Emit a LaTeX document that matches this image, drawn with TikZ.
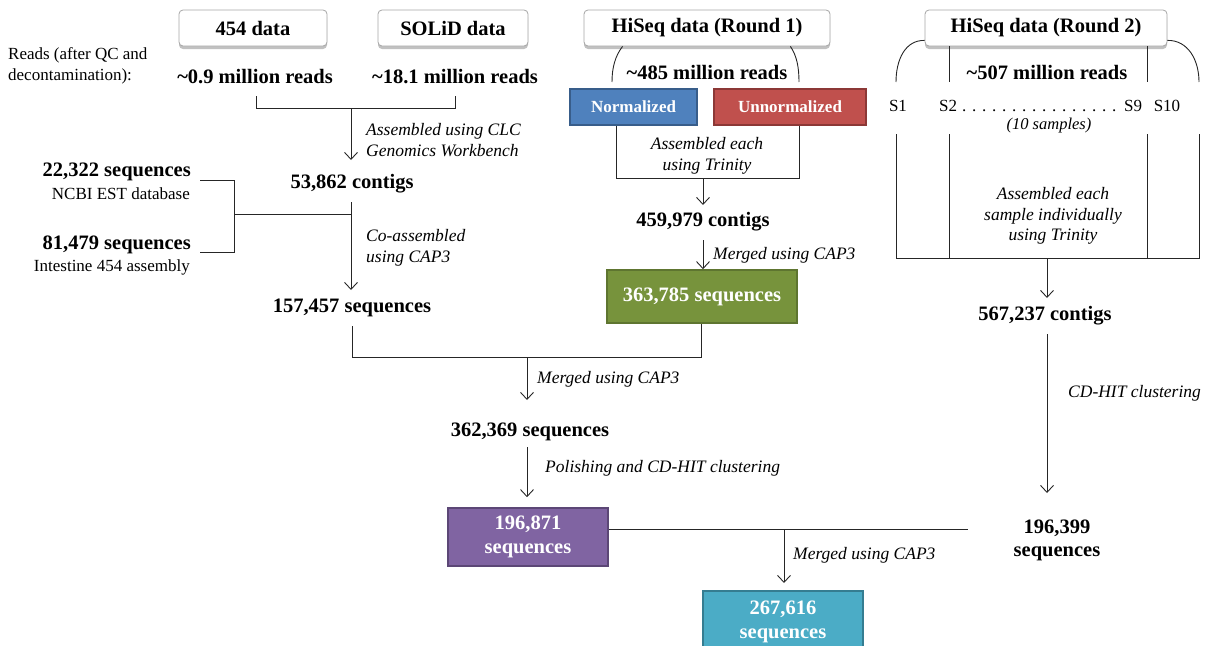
\documentclass[tikz,border=0pt]{standalone}
\usepackage{fontspec}
\setmainfont{Liberation Serif}
\usetikzlibrary{arrows.meta,shadows}
\definecolor{nblue}{HTML}{4F81BD}\definecolor{nblueD}{HTML}{385D8A}
\definecolor{ured}{HTML}{C0504D}\definecolor{uredD}{HTML}{8C3836}
\definecolor{ggreen}{HTML}{77933C}\definecolor{ggreenD}{HTML}{5E7530}
\definecolor{ppurple}{HTML}{8064A2}\definecolor{ppurpleD}{HTML}{5C4776}
\definecolor{ccyan}{HTML}{4BACC6}\definecolor{ccyanD}{HTML}{357D91}
\definecolor{lnc}{HTML}{262626}
\tikzset{
  bigb/.style={font=\fontsize{20.5}{23}\selectfont\bfseries, inner sep=0pt, align=center},
  lab/.style={font=\fontsize{17.5}{20.5}\selectfont\itshape, inner sep=0pt, align=left},
  plain/.style={font=\fontsize{17}{21}\selectfont, inner sep=0pt},
  topbox/.style={draw=black!35, fill=white, rounded corners=4pt, line width=0.8pt,
     minimum height=36pt, inner sep=0pt, font=\fontsize{20.5}{23}\selectfont\bfseries,
     drop shadow={shadow xshift=0pt, shadow yshift=-3pt, opacity=0.35, fill=black!70}},
  cbox/.style={line width=1.6pt, inner sep=0pt, text=white, align=center,
     font=\fontsize{20.5}{24}\selectfont\bfseries},
  sbox/.style={line width=1.6pt, inner sep=0pt, text=white, minimum height=36pt,
     font=\fontsize{17}{20}\selectfont\bfseries},
  ln/.style={draw=lnc, line width=0.9pt},
  arr/.style={ln, -{Straight Barb[length=7pt,width=13pt,line width=0.9pt]}},
}
\begin{document}
\begin{tikzpicture}[x=1pt,y=-1pt]
\useasboundingbox (0,0) rectangle (1207,645);
% ---------- top boxes ----------
\node[topbox, minimum width=148pt] (b454) at (253,28) {454 data};
\node[topbox, minimum width=150pt] (bsol) at (453,28) {SOLiD data};
\node[topbox, minimum width=246pt] (br1) at (707,28) {HiSeq data (Round 1)};
\node[topbox, minimum width=242pt] (br2) at (1046,28) {HiSeq data (Round 2)};
% ---------- left column ----------
\node[plain, anchor=west, align=left] (readslab) at (8,66) {Reads (after QC and\\decontamination):};
\node[bigb] (r454) at (255,77) {\textasciitilde0.9 million reads};
\node[bigb] (rsol) at (455,77) {\textasciitilde18.1 million reads};
\coordinate (ja) at (256,96); \coordinate (jb) at (455,96);
\coordinate (jm) at (351,108); \coordinate (t53) at (351,160);
\draw[ln] (ja) -- (ja |- jm) -- (jb |- jm) -- (jb);
\draw[arr] (jm) -- (t53);
\node[lab, anchor=west] (l1) at (366,140) {Assembled using CLC\\Genomics Workbench};
\node[bigb] (c53) at (352,184) {53,862 contigs};
\node[bigb, anchor=east] (s22) at (191,172) {22,322 sequences};
\node[plain, anchor=east] (ncbi) at (190,194) {NCBI EST database};
\node[bigb, anchor=east] (s81) at (191,245) {81,479 sequences};
\node[plain, anchor=east] (intes) at (190,267) {Intestine 454 assembly};
\coordinate (k1) at (200,180); \coordinate (k2) at (200,252);
\coordinate (kx) at (234,214); \coordinate (kv) at (351,214);
\coordinate (f53) at (351,202); \coordinate (t157) at (351,290);
\draw[ln] (k1) -- (kx |- k1) -- (kx |- k2) -- (k2);
\draw[ln] (kx) -- (kv);
\draw[arr] (f53) -- (t157);
\node[lab, anchor=west] (l2) at (366,248) {Co-assembled\\using CAP3};
\node[bigb] (s157) at (352,308) {157,457 sequences};
% ---------- Round 1 ----------
\node[bigb] (r485) at (707,72) {\textasciitilde485 million reads};
\draw[ln] (br1.south west) ++(39,0) coordinate (pl) .. controls (615,56) and (612,68) .. (612,82);
\draw[ln] (br1.south east) ++(-40,0) coordinate (pr) .. controls (797,56) and (799,68) .. (799,82);
\node[sbox, draw=nblueD, fill=nblue, minimum width=127pt] (norm) at (633.5,107) {Normalized};
\node[sbox, draw=uredD, fill=ured, minimum width=152pt] (unnorm) at (790,107) {Unnormalized};
\coordinate (n1) at (616,178); \coordinate (n2) at (799,178);
\coordinate (nm) at (703,178); \coordinate (t459) at (703,205);
\draw[ln] (norm.south -| n1) -- (n1) -- (n2) -- (unnorm.south -| n2);
\draw[arr] (nm) -- (t459);
\node[lab, align=center] (l3) at (707,156) {Assembled each\\using Trinity};
\node[bigb] (c459) at (703,222) {459,979 contigs};
\coordinate (f459) at (703,240);
\node[cbox, draw=ggreenD, fill=ggreen, minimum width=190pt, minimum height=53pt] (g363) at (702,296.5) {363,785 sequences};
\draw[arr] (f459) -- (g363.north -| f459);
\node[lab, anchor=west] (l4) at (713,255) {Merged using CAP3};
% ---------- merge 1 ----------
\coordinate (m1) at (352,326); \coordinate (m2) at (352,357); \coordinate (m3) at (701,357);
\coordinate (mm) at (527,357); \coordinate (t362) at (527,400);
\draw[ln] (m1) -- (m2) -- (m3) -- (g363.south -| m3);
\draw[arr] (mm) -- (t362);
\node[lab, anchor=west] (l5) at (537,379) {Merged using CAP3};
\node[bigb] (s362) at (530,432) {362,369 sequences};
\coordinate (f362) at (527,447);
\node[cbox, draw=ppurpleD, fill=ppurple, minimum width=160pt, minimum height=58pt] (p196) at (528,537) {196,871\\sequences};
\draw[arr] (f362) -- ([yshift=10pt]p196.north -| f362);
\node[lab, anchor=west] (l6) at (545,468) {Polishing and CD-HIT clustering};
% ---------- Round 2 ----------
\node[bigb] (r507) at (1047,72) {\textasciitilde507 million reads};
\draw[ln] ([yshift=6pt]br2.south west) .. controls (905,40) and (896,60) .. (896,82);
\draw[ln] ([yshift=6pt]br2.south east) .. controls (1188,40) and (1199,60) .. (1199,82);
\draw[ln] (br2.south -| 949,0) -- (949,82);
\draw[ln] (br2.south -| 1147,0) -- (1147,82);
\node[plain] (s1) at (898,106) {S1};
\node[plain, anchor=west] (s2s9) at (939,106) {\makebox[203pt]{S2\leaders\hbox to 10pt{\hss.\hss}\hfill S9}};
\node[plain] (s10) at (1167,106) {S10};
\node[lab, font=\fontsize{16.5}{19}\selectfont\itshape] (ten) at (1049,126) {(10 samples)};
\coordinate (q1) at (896,134); \coordinate (q2) at (949,134);
\coordinate (q3) at (1147,134); \coordinate (q4) at (1199,134);
\coordinate (qm) at (1047,258); \coordinate (t567) at (1047,298);
\draw[ln] (q1) -- (q1 |- qm) -- (q4 |- qm) -- (q4);
\draw[ln] (q2) -- (q2 |- qm);
\draw[ln] (q3) -- (q3 |- qm);
\draw[arr] (qm) -- (t567);
\node[lab, align=center] (l7) at (1053,216) {Assembled each\\sample individually\\using Trinity};
\node[bigb] (c567) at (1045,316) {567,237 contigs};
\coordinate (f567) at (1047,334); \coordinate (t196) at (1047,493);
\draw[arr] (f567) -- (t196);
\node[lab, anchor=west] (l8) at (1068,393) {CD-HIT clustering};
\node[bigb] (s196) at (1057,540) {196,399\\sequences};
% ---------- final merge ----------
\coordinate (e1) at (968,529); \coordinate (em) at (784,529);
\draw[ln] (p196.east |- e1) -- (e1);
\node[cbox, draw=ccyanD, fill=ccyan, minimum width=160pt, minimum height=62pt, anchor=north] (c267) at (783,590) {267,616\\sequences};
\draw[arr] (em) -- ([yshift=7pt]c267.north -| em);
\node[lab, anchor=west] (l9) at (793,555) {Merged using CAP3};
\end{tikzpicture}
\end{document}
